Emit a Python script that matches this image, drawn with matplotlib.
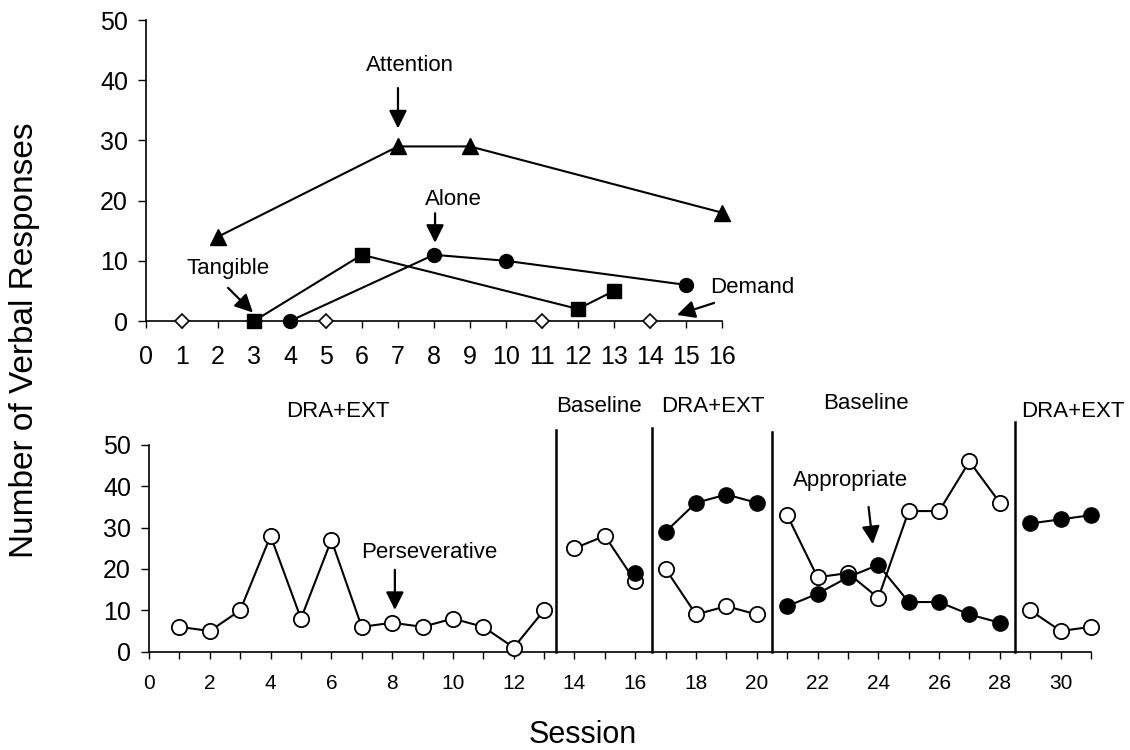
import matplotlib
matplotlib.use("Agg")
import matplotlib.pyplot as plt

plt.rcParams['font.family'] = ['Liberation Sans', 'DejaVu Sans']

# ---- functional analysis (top panel) ----
attention_x = [2, 7, 9, 16]
attention_y = [14, 29, 29, 18]
tangible_x = [3, 6, 12, 13]
tangible_y = [0, 11, 2, 5]
alone_x = [4, 8, 10, 15]
alone_y = [0, 11, 10, 6]
demand_x = [1, 5, 11, 14]
demand_y = [0, 0, 0, 0]

# ---- treatment evaluation (bottom panel), one list per phase ----
persev_x = [[1, 2, 3, 4, 5, 6, 7, 8, 9, 10, 11, 12, 13],
            [14, 15, 16],
            [17, 18, 19, 20],
            [21, 22, 23, 24, 25, 26, 27, 28],
            [29, 30, 31]]
persev_y = [[6, 5, 10, 28, 8, 27, 6, 7, 6, 8, 6, 1, 10],
            [25, 28, 17],
            [20, 9, 11, 9],
            [33, 18, 19, 13, 34, 34, 46, 36],
            [10, 5, 6]]
approp_x = [[16],
            [17, 18, 19, 20],
            [21, 22, 23, 24, 25, 26, 27, 28],
            [29, 30, 31]]
approp_y = [[19],
            [29, 36, 38, 36],
            [11, 14, 18, 21, 12, 12, 9, 7],
            [31, 32, 33]]
phase_lines = [13.4, 16.55, 20.5, 28.5]
phase_line_tops = [53.7, 54.2, 53.2, 55.6]
phase_names = ['DRA+EXT', 'Baseline', 'DRA+EXT', 'Baseline', 'DRA+EXT']
phase_label_x = [6.2, 14.8, 18.55, 23.6, 30.4]
phase_label_y = [58, 59.3, 59.3, 60, 58]

# annotation labels: (text, text pos, arrow tail, arrow tip)
top_notes = [('Attention', (7.33, 42.5), (7.0, 38.7), (7.0, 32.0)),
             ('Alone', (8.53, 20.2), (8.03, 17.9), (8.03, 13.0)),
             ('Tangible', (2.27, 8.8), (2.28, 5.5), (2.97, 1.4)),
             ('Demand', (16.84, 5.6), (15.78, 3.0), (14.75, 1.0))]
bottom_notes = [('Perseverative', (9.21, 23.9), (8.09, 19.8), (8.09, 10.1)),
                ('Appropriate', (23.1, 41.5), (23.68, 35.0), (23.82, 26.0))]

fig = plt.figure(figsize=(11.3, 7.5), dpi=100)

ax1 = fig.add_axes([0.1292, 0.572, 0.5097, 0.4013])
ax2 = fig.add_axes([0.1319, 0.1311, 0.8336, 0.2757])

for ax in (ax1, ax2):
    ax.spines['top'].set_visible(False)
    ax.spines['right'].set_visible(False)
    for s in ('left', 'bottom'):
        ax.spines[s].set_linewidth(1.2)
    ax.set_ylim(0, 50)
    ax.set_yticks(range(0, 51, 10))
    ax.tick_params(direction='out', length=6, width=1.0, labelsize=18)
    ax.tick_params(axis='y', pad=7)

# top panel
mk = dict(color='black', lw=1.5, clip_on=False, zorder=3)
ax1.plot(attention_x, attention_y, marker='^', ms=11, mfc='black', **mk)
ax1.plot(tangible_x, tangible_y, marker='s', ms=10, mfc='black', **mk)
ax1.plot(alone_x, alone_y, marker='o', ms=10, mfc='black', **mk)
ax1.plot(demand_x, demand_y, marker='D', ms=7.5, mfc='white', mew=1.2,
         ls='none', color='black', clip_on=False, zorder=4)
ax1.set_xlim(0, 16)
ax1.set_xticks(range(0, 17))
ax1.tick_params(axis='x', length=5, pad=12)

arr = dict(arrowstyle='-|>,head_width=0.45,head_length=0.9', mutation_scale=12,
           color='black', lw=1.6, shrinkA=0, shrinkB=0)
for ax, notes in ((ax1, top_notes), (ax2, bottom_notes)):
    for label, tpos, tail, tip in notes:
        ax.text(tpos[0], tpos[1], label, ha='center', va='center', fontsize=16)
        ax.annotate('', xy=tip, xytext=tail, arrowprops=arr, annotation_clip=False)

# bottom panel
for xs, ys in zip(persev_x, persev_y):
    ax2.plot(xs, ys, marker='o', ms=11, mfc='white', mew=1.3, color='black',
             lw=1.5, clip_on=False, zorder=3)
for xs, ys in zip(approp_x, approp_y):
    ax2.plot(xs, ys, marker='o', ms=11, mfc='black', color='black',
             lw=1.5, clip_on=False, zorder=4)

for xl, top in zip(phase_lines, phase_line_tops):
    ax2.plot([xl, xl], [0, top], color='black', lw=1.8, clip_on=False)
for name, lx, ly in zip(phase_names, phase_label_x, phase_label_y):
    ax2.text(lx, ly, name, ha='center', va='center', fontsize=16)

ax2.set_xlim(0, 31)
ax2.set_xticks(range(0, 32))
ax2.set_xticklabels([str(i) if i % 2 == 0 else '' for i in range(0, 32)])
ax2.tick_params(axis='x', labelsize=15, length=5, pad=11)

fig.text(0.516, 0.02, 'Session', ha='center', va='center', fontsize=22)
fig.text(0.022, 0.547, 'Number of Verbal Responses', rotation=90,
         ha='center', va='center', fontsize=24)

fig.savefig('out.png', dpi=100)
